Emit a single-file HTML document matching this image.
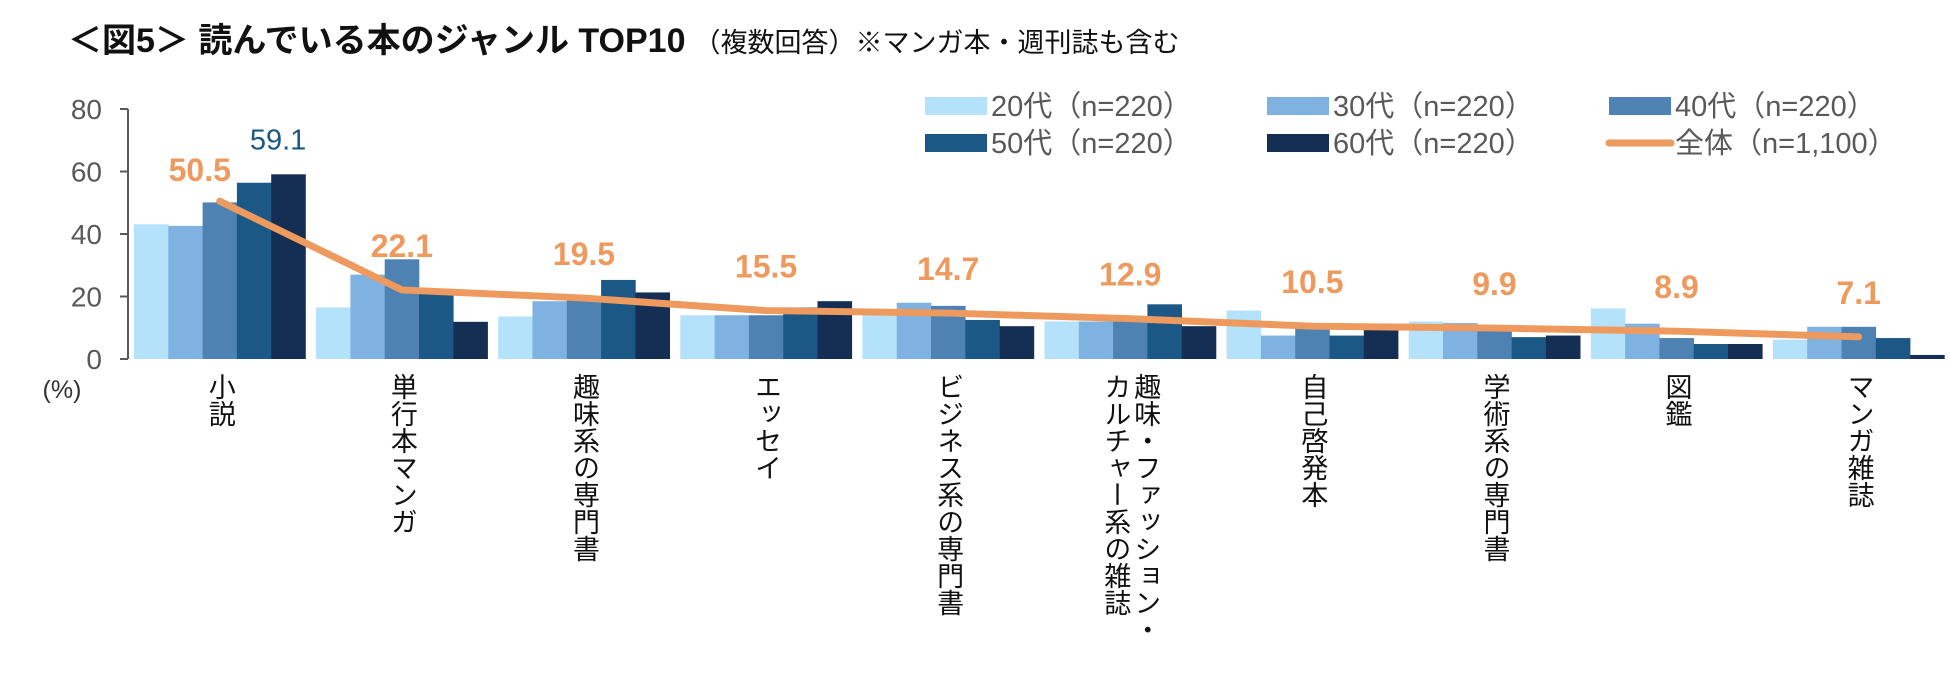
<!DOCTYPE html>
<html><head><meta charset="utf-8"><style>
body{margin:0;background:#fff;}
svg{display:block;font-family:"Liberation Sans","Noto Sans CJK JP",sans-serif;}
</style></head><body>
<svg id="chart" width="1950" height="697" viewBox="0 0 1950 697" xmlns="http://www.w3.org/2000/svg">
<text x="68" y="52" font-size="34" font-weight="bold" fill="#111">＜図5＞ 読んでいる本のジャンル TOP10<tspan font-size="27" font-weight="normal" dx="8">（複数回答）※マンガ本・週刊誌も含む</tspan></text>
<g id="legend"></g>
<g id="axis"></g>
<g id="bars"></g>
<g id="line"></g>
<g id="cats"></g>
<text x="62" y="398" font-size="25" fill="#333" text-anchor="middle">(%)</text>
</svg>
<script>
const categories=["小説","単行本マンガ","趣味系の専門書","エッセイ","ビジネス系の専門書","趣味・ファッション・\nカルチャー系の雑誌","自己啓発本","学術系の専門書","図鑑","マンガ雑誌"];
const seriesNames=["20代（n=220）","30代（n=220）","40代（n=220）","50代（n=220）","60代（n=220）"];
const s20=[43.1,16.5,13.6,14,15,12,15.5,12,16.2,6.2];
const s30=[42.6,27,18.5,14,18,12,7.5,11.5,11.3,10.3];
const s40=[50.1,31.9,19.3,14,17,12,11.5,9,6.7,10.3];
const s50=[56.4,22.4,25.3,16.5,12.5,17.5,7.5,7,4.8,6.7];
const s60=[59.1,11.9,21.3,18.5,10.5,10.5,9.5,7.5,4.8,1.3];
const overall=[50.5,22.1,19.5,15.5,14.7,12.9,10.5,9.9,8.9,7.1];
const overallName="全体（n=1,100）";
const yTicks=[0,20,40,60,80];
const colors=["#b3e2fa","#7fb2e0","#4d82b3","#1c5886","#152e54"];
const NS="http://www.w3.org/2000/svg";
const x0=134,groupW=182.1,barW=34.3,y0=359,pxPerUnit=250/80;
const y=v=>y0-v*pxPerUnit;
const gx=i=>x0+i*groupW;
function mk(tag,attrs,parent){const e=document.createElementNS(NS,tag);for(const k in attrs)e.setAttribute(k,attrs[k]);parent.appendChild(e);return e;}
const axis=document.getElementById('axis');
let ax=mk('line',{x1:128,y1:y(80),x2:128,y2:y0,stroke:'#595959','stroke-width':2},axis);


yTicks.forEach(t=>{
 let l=mk('line',{x1:120,x2:128,y1:y(t),y2:y(t),stroke:'#595959','stroke-width':2},axis);
 
 
 let tx=mk('text',{x:102,y:y(t)+10,'font-size':28,fill:'#595959','text-anchor':'end'},axis);
 tx.textContent=t;
 
 
});
const series=[s20,s30,s40,s50,s60];
const bars=document.getElementById('bars');
series.forEach((s,si)=>s.forEach((v,i)=>{
 let r=mk('rect',{x:gx(i)+si*barW,y:y(v),width:barW+0.3,height:v*pxPerUnit,fill:colors[si]},bars);
 
 
}));
let lbl=mk('text',{x:gx(0)+4.2*barW,y:y(59.1)-25,'font-size':29,fill:'#1c5886','text-anchor':'middle'},bars);
lbl.textContent=s60[0].toFixed(1);


const line=document.getElementById('line');
const pts=overall.map((v,i)=>(gx(i)+2.5*barW)+','+y(v)).join(' ');
let pl=mk('polyline',{points:pts,fill:'none',stroke:'#ee9a5e','stroke-width':7,'stroke-linecap':'round','stroke-linejoin':'round'},line);


overall.forEach((v,i)=>{
 let t=mk('text',{x:gx(i)+2.5*barW-(i==0?20:0),y:y(v)-(i==0?20:33),'font-size':32,'font-weight':'bold',fill:'#ee9a5e','text-anchor':'middle'},line);
 t.textContent=v.toFixed(1);
 
 
});
const cats=document.getElementById('cats');
categories.forEach((c,i)=>{
 const lines=c.split('\n');const cx=gx(i)+2.5*barW;
 lines.forEach((ln,li)=>{
  const off=(lines.length==1)?0:(li==0?15:-15);
  let t=mk('text',{x:cx+off,y:373,'font-size':27,fill:'#111',style:'writing-mode:vertical-rl;text-orientation:upright'},cats);
  t.textContent=ln;
  
  
 });
});
const legend=document.getElementById('legend');
const names=seriesNames.concat([overallName]);
names.forEach((n,i)=>{
 const col=i<3?i:i-3,row=i<3?0:1;
 const lx=925+col*342,ly=106+row*37;
 let sw;
 if(i<5){sw=mk('rect',{x:lx,y:ly-9,width:62,height:18,fill:colors[i]},legend);}
 else{sw=mk('line',{x1:lx,x2:lx+62,y1:ly,y2:ly,stroke:'#ee9a5e','stroke-width':7,'stroke-linecap':'round'},legend);}
 
 
 let t=mk('text',{x:lx+66,y:ly+10,'font-size':29,fill:'#595959'},legend);
 t.textContent=n;
 
 
});
</script>
</body></html>
